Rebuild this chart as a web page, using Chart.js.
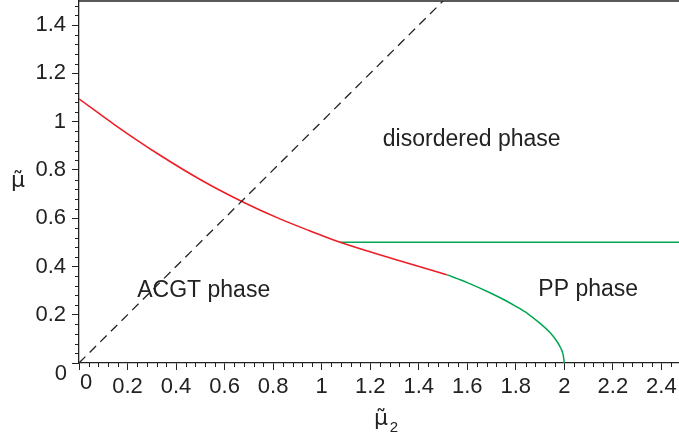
<!DOCTYPE html>
<html>
<head>
<meta charset="utf-8">
<script src="https://cdn.jsdelivr.net/npm/chart.js@4/dist/chart.umd.min.js"></script>
<style>
  body { margin: 0; background: #fff; }
  canvas { display: block; }
</style>
</head>
<body>
<canvas id="phase" width="679" height="441"></canvas>
<script>
// kurvor (mu2, mu)
const redX = [0, 0.15, 0.326, 0.512, 0.684, 0.828, 0.95, 1.076, 1.3, 1.515];
const redY = [1.095, 0.985, 0.866, 0.753, 0.663, 0.597, 0.548, 0.5, 0.43, 0.366];

const greenX = [1.515, 1.6, 1.7, 1.763, 1.8, 1.85, 1.9, 1.94, 1.969, 1.985, 1.995, 2.0];
const greenY = [0.366, 0.333, 0.288, 0.256, 0.235, 0.204, 0.164, 0.127, 0.09, 0.062, 0.035, 0];

const flatX = [1.076, 2.5];
const flatY = [0.5, 0.5];

const diagX = [0, 1.5];
const diagY = [0, 1.5];

// textetiketter i diagrammet
const phaseLabels = ['disordered phase', 'ACGT phase', 'PP phase'];
const phaseX = [1.252, 0.24, 1.893];
const phaseY = [0.925, 0.30, 0.304];

const toPoints = (xs, ys) => xs.map((x, i) => ({ x, y: ys[i] }));

const FONT = '"Liberation Sans", Arial, sans-serif';
const TEXT = '#222';

const tickLabel = (v) => (Math.abs(v) < 1e-9 ? '' : String(Number(v.toFixed(2))));

// mindre tickmarkeringar, ram, nollor, axeltitlar och etiketter
const extras = {
  id: 'extras',
  afterDraw(chart) {
    const { ctx, chartArea, scales } = chart;
    const xs = scales.x, ys = scales.y;
    ctx.save();
    ctx.strokeStyle = '#222';
    ctx.lineWidth = 1.3;
    // överkant
    ctx.beginPath();
    ctx.moveTo(chartArea.left, chartArea.top);
    ctx.lineTo(chartArea.right, chartArea.top);
    ctx.stroke();
    // minor ticks
    ctx.lineWidth = 1;
    for (let i = 1; i * 0.04 < 2.48; i++) {
      if (i % 5 === 0) continue;
      const px = Math.round(xs.getPixelForValue(i * 0.04)) + 0.5;
      ctx.beginPath();
      ctx.moveTo(px, chartArea.bottom);
      ctx.lineTo(px, chartArea.bottom + 4);
      ctx.stroke();
    }
    for (let i = 1; i * 0.04 < 1.5; i++) {
      if (i % 5 === 0) continue;
      const py = Math.round(ys.getPixelForValue(i * 0.04)) + 0.5;
      ctx.beginPath();
      ctx.moveTo(chartArea.left, py);
      ctx.lineTo(chartArea.left - 4, py);
      ctx.stroke();
    }
    ctx.fillStyle = TEXT;
    ctx.font = '22px ' + FONT;
    ctx.textBaseline = 'middle';
    // nollor
    ctx.textAlign = 'center';
    ctx.fillText('0', chartArea.left + 7, 383);
    ctx.textAlign = 'right';
    ctx.fillText('0', 67, 374);
    // axeltitlar
    ctx.textAlign = 'center';
    ctx.font = '22px "DejaVu Sans", sans-serif';
    ctx.fillText('\u03bc\u0303', 18, 181);
    ctx.fillText('\u03bc\u0303', 381, 419);
    ctx.font = '15px ' + FONT;
    ctx.fillText('2', 394, 428);
    // fasnamn
    ctx.font = '23px ' + FONT;
    ctx.textAlign = 'left';
    phaseLabels.forEach((t, i) => {
      ctx.fillText(t, xs.getPixelForValue(phaseX[i]), ys.getPixelForValue(phaseY[i]));
    });
    ctx.restore();
  }
};

const datasets = [
  {
    data: toPoints(diagX, diagY),
    borderColor: '#222',
    borderWidth: 1.3,
    borderDash: [9, 6],
    pointRadius: 0,
    showLine: true
  },
  {
    data: toPoints(redX, redY),
    borderColor: '#ee1c24',
    borderWidth: 1.5,
    pointRadius: 0,
    showLine: true,
    cubicInterpolationMode: 'monotone'
  },
  {
    data: toPoints(flatX, flatY),
    borderColor: '#00a651',
    borderWidth: 1.5,
    pointRadius: 0,
    showLine: true
  },
  {
    data: toPoints(greenX, greenY),
    borderColor: '#00a651',
    borderWidth: 1.5,
    pointRadius: 0,
    showLine: true,
    cubicInterpolationMode: 'monotone'
  }
];

const config = {
  type: 'scatter',
  data: { datasets },
  options: {
    responsive: false,
    animation: false,
    layout: { padding: { top: 1, right: 0, left: 0, bottom: 0 } },
    plugins: { legend: { display: false }, tooltip: { enabled: false } },
    scales: {
      x: {
        type: 'linear',
        min: 0,
        max: 2.4725,
        afterFit: (s) => { s.height = 78; s.paddingLeft = 0; s.paddingRight = 0; },
        border: { display: true, color: '#222', width: 1.3 },
        grid: { drawOnChartArea: false, drawTicks: true, tickLength: 7, color: '#222', tickWidth: 1 },
        ticks: {
          stepSize: 0.2,
          includeBounds: false,
          autoSkip: false,
          maxRotation: 0,
          padding: 4,
          color: TEXT,
          font: { family: FONT, size: 22 },
          callback: tickLabel
        }
      },
      y: {
        type: 'linear',
        min: 0,
        max: 1.5,
        afterFit: (s) => { s.width = 79; s.paddingTop = 0; s.paddingBottom = 0; },
        border: { display: true, color: '#222', width: 1.3 },
        grid: { drawOnChartArea: false, drawTicks: true, tickLength: 7, color: '#222', tickWidth: 1 },
        ticks: {
          stepSize: 0.2,
          includeBounds: false,
          autoSkip: false,
          padding: 6,
          color: TEXT,
          font: { family: FONT, size: 22 },
          callback: tickLabel
        }
      }
    }
  },
  plugins: [extras]
};

const chart = new Chart(document.getElementById('phase'), config);
</script>
</body>
</html>
